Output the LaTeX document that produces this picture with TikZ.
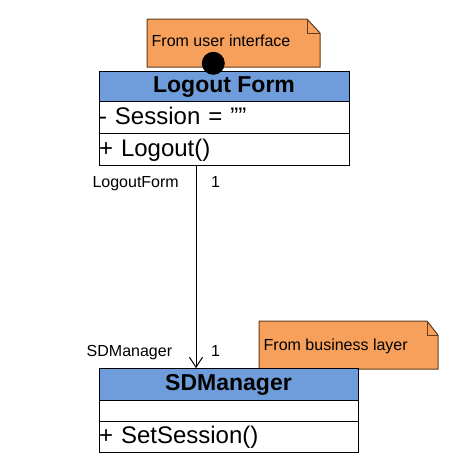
\documentclass[tikz,border=0pt]{standalone}
\usepackage{fontspec}
\setmainfont{Liberation Sans}
\usetikzlibrary{arrows.meta}
\definecolor{headblue}{RGB}{111,157,219}
\definecolor{noteorange}{RGB}{247,160,92}
\definecolor{noteline}{RGB}{95,60,30}

\begin{document}
\begin{tikzpicture}[x=1pt,y=-1pt]
\def\fsz#1{\fontsize{#1}{#1}\selectfont}
\tikzset{class head/.style={
	draw,
	rectangle,
	fill=headblue,
	inner sep=0pt,
	text height=16.5pt,
	text depth=3.2pt,
	font=\fsz{23}\bfseries
}}
\tikzset{class row/.style={
	draw,
	rectangle,
	fill=white,
	inner sep=0pt,
	align=left,
	text height=17.2pt,
	text depth=3.2pt,
	font=\fsz{24}
}}
\tikzset{small text/.style={
	inner sep=0pt,
	font=\fsz{16}
}}
\useasboundingbox (0,0) rectangle (469,464);
% notes with folded corner
\foreach \xa/\ya/\xb/\yb/\fx in {147/19/320/67/307, 259/321/438/369/427}
{
	\draw[fill=noteorange,draw=noteline,line width=1pt]
		(\xa,\ya) -- (\fx,\ya) -- (\xb,\ya+14) -- (\xb,\yb) -- (\xa,\yb) -- cycle;
	\draw[noteline,line width=1pt] (\fx,\ya) -- (\fx,\ya+14) -- (\xb,\ya+14);
}
\node[small text,anchor=base west] (uinote) at (151.5,46.7) {From user interface};
\node[small text,anchor=base west] (blnote) at (263.5,350) {From business layer};
% Logout Form class
\node[class head,minimum width=250,minimum height=30] (lfhead) at (224,85.7) {Logout Form};
\node[class row,text width=250,minimum height=32,anchor=north] (lfattr) at (lfhead.south) {- Session = \symbol{34}\symbol{34}};
\node[class row,text width=250,minimum height=32,anchor=north] (lfops) at (lfattr.south) {+ Logout()};
\node[circle,fill=black,inner sep=0pt,minimum size=23] (dot) at (213.3,63.3) {};
% SDManager class
\node[class head,minimum width=259,minimum height=31.7] (sdhead) at (228.5,384.2) {SDManager};
\node[class row,text width=259,minimum height=16.7,anchor=north] (sdattr) at (sdhead.south) {};
\node[class row,text width=259,minimum height=31,anchor=north] (sdops) at (sdattr.south) {+ SetSession()};
% association
\coordinate (assoc) at (196,0);
\draw[line width=1pt,-{Straight Barb[length=10pt,width=13pt,line width=1pt]}]
	(lfops.south -| assoc) -- (sdhead.north -| assoc);
\node[small text,anchor=base east] (srcrole) at (179,187.7) {LogoutForm};
\node[small text,anchor=base west] (srcmult) at (211,187.7) {1};
\node[small text,anchor=base east] (dstrole) at (172.3,356.7) {SDManager};
\node[small text,anchor=base west] (dstmult) at (211,356.7) {1};
\end{tikzpicture}
\end{document}
